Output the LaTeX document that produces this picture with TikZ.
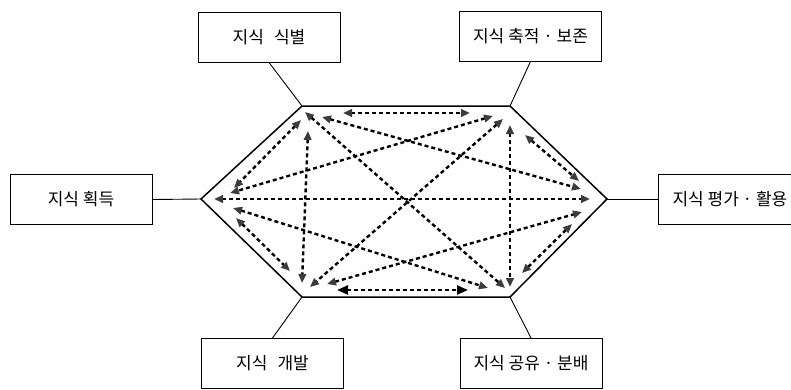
\documentclass[tikz,border=0pt]{standalone}
\usepackage{fontspec}
\newfontfamily\kr{Noto Sans CJK KR}
\usetikzlibrary{arrows.meta}
\definecolor{tipgray}{HTML}{3C3C3C}
\begin{document}
\begin{tikzpicture}[x=1pt,y=-1pt,
  box/.style={draw, line width=0.9pt, minimum width=142pt, minimum height=50pt, inner sep=0pt, font=\kr\fontsize{17pt}{19pt}\selectfont},
  hexline/.style={line width=1.5pt},
  stem/.style={line width=0.9pt},
  link/.style={line width=2.4pt, dash pattern=on 4pt off 3pt,
    {Triangle[length=9pt,width=7.5pt,color=tipgray]}-{Triangle[length=9pt,width=7.5pt,color=tipgray]}},
  biglink/.style={line width=2.4pt, dash pattern=on 4pt off 3pt,
    {Triangle[length=11pt,width=9pt,color=black]}-{Triangle[length=11pt,width=9pt,color=black]}}]
\useasboundingbox (0,0) rectangle (791,389);

% hexagon vertices
\coordinate (vTL) at (302,106);
\coordinate (vTR) at (510,106);
\coordinate (vR)  at (607,199);
\coordinate (vBR) at (510,297);
\coordinate (vBL) at (302,297);
\coordinate (vL)  at (201,199);
\draw[hexline] (vTL) -- (vTR) -- (vR) -- (vBR) -- (vBL) -- (vL) -- cycle;

% boxes
\node[box] (b1) at (269,37) {지식\hspace{0.6em}식별};
\node[box] (b2) at (530.5,36) {지식 축적 · 보존};
\node[box] (b3) at (81,199.5) {지식 획득};
\node[box, anchor=west, minimum width=143pt] (b4) at (658,199) {지식 평가 · 활용};
\node[box, anchor=north] (b5) at (272.5,338) {\raisebox{-3pt}{지식\hspace{0.6em}개발}};
\node[box, anchor=north] (b6) at (531,338) {\raisebox{-3pt}{지식 공유 · 분배}};

% stems
\draw[stem] (b1.south) -- (vTL);
\draw[stem] (b2.south) -- (vTR);
\draw[stem] (b3.east) -- (vL);
\draw[stem] (b4.west) -- (vR);
\draw[stem] (b5.north) -- (vBL);
\draw[stem] (b6.north) -- (vBR);

% arrow end points
\coordinate (a1s) at (343,113);  \coordinate (a1e) at (470,113);
\coordinate (a2s) at (337,290);  \coordinate (a2e) at (468,290);
\coordinate (a3s) at (301,120);  \coordinate (a3e) at (234,188);
\coordinate (a4s) at (236,218);  \coordinate (a4e) at (290,271);
\coordinate (a5s) at (525,135);  \coordinate (a5e) at (579,181);
\coordinate (a6s) at (572,224);  \coordinate (a6e) at (522,273);
\coordinate (a7s) at (308,131);  \coordinate (a7e) at (302,283);
\coordinate (a8s) at (510,125);  \coordinate (a8e) at (510,287);
\coordinate (a9s) at (214,199);  \coordinate (a9e) at (590,199);
\coordinate (a10s) at (305,112); \coordinate (a10e) at (505,288);
\coordinate (a11s) at (503,119); \coordinate (a11e) at (310,287);
\coordinate (a12s) at (322,117); \coordinate (a12e) at (581,189);
\coordinate (a13s) at (493,116); \coordinate (a13e) at (230,193);
\coordinate (a14s) at (233,208); \coordinate (a14e) at (488,288);
\coordinate (a15s) at (327,284); \coordinate (a15e) at (582,212);

\draw[link] (a1s) -- (a1e);
\draw[biglink] (a2s) -- (a2e);
\foreach \i in {3,...,15} { \draw[link] (a\i s) -- (a\i e); }
\end{tikzpicture}
\end{document}
